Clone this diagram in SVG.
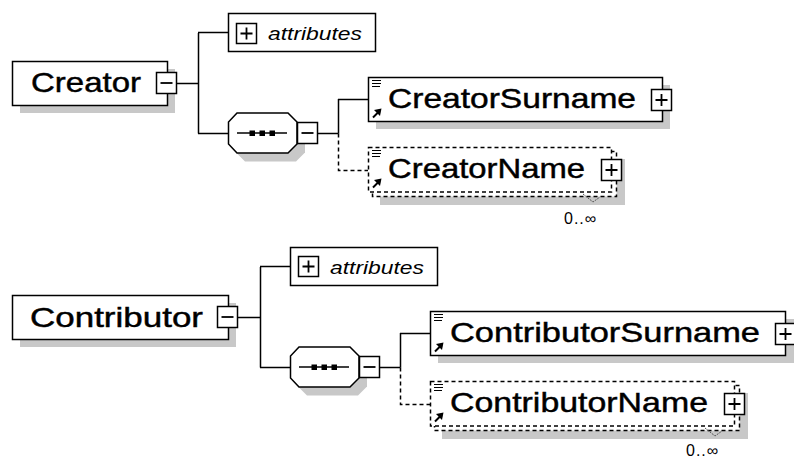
<svg xmlns="http://www.w3.org/2000/svg" xmlns:xlink="http://www.w3.org/1999/xlink" width="794" height="461" viewBox="0 0 794 461">
<style>
.bg{fill:#ffffff}
.shadow{fill:#c8c8c8;stroke:none}
.box{fill:#ffffff;stroke:#000000;stroke-width:1.5}
.dbox{fill:#ffffff;stroke:#000000;stroke-width:1.5;stroke-dasharray:4,3}
.line{fill:none;stroke:#000000;stroke-width:1.5}
.dline{fill:none;stroke:#000000;stroke-width:1.5;stroke-dasharray:4,3}
.sym{fill:none;stroke:#000000;stroke-width:1.8}
.name{font-family:"Liberation Sans",Arial,sans-serif;font-size:28px;fill:#000000;stroke:#000000;stroke-width:0.45}
.attr{font-family:"Liberation Sans",Arial,sans-serif;font-style:italic;font-size:18px;fill:#000000}
.mult{font-family:"Liberation Sans","DejaVu Sans",sans-serif;font-size:16px;fill:#000000;letter-spacing:1px}
.vmark{fill:none;stroke:#555555;stroke-width:1;stroke-dasharray:2,1}
</style>
<defs>
<g id="lines"><path d="M4 3.5H13M4 6.5H13M4 9.5H12" fill="none" stroke="#000" stroke-width="1.1"/></g>
<g id="arrow"><path d="M5 -3.5L10 -8.5" fill="none" stroke="#000" stroke-width="2"/><polygon points="13.5,-12.5 6,-11 12,-5" fill="#000"/></g>
<g id="plus"><rect class="box" x="0" y="0" width="20" height="20"/><path class="sym" d="M4 10H16M10 4V16"/></g>
<g id="plusT"><rect class="box" x="0" y="0" width="20" height="21"/><path class="sym" d="M4 10.5H16M10 4.5V16.5"/></g>
<g id="minus"><rect class="box" x="0" y="0" width="20" height="21"/><path class="sym" d="M4 10.5H16"/></g>
<g id="seq">
<polygon class="shadow" points="17,9 68,9 77,18 77,40 68,49 17,49 8,40 8,18"/>
<polygon class="box" points="9,0.5 60,0.5 69,9.5 69,31.5 60,40.5 9,40.5 0.5,31.5 0.5,9.5"/>
<path class="line" d="M9 20.5H59"/>
<rect x="21.5" y="18" width="5.5" height="5.5" fill="#000"/>
<rect x="31.5" y="18" width="5.5" height="5.5" fill="#000"/>
<rect x="41.5" y="18" width="5.5" height="5.5" fill="#000"/>
</g>
</defs>
<rect class="bg" x="0" y="0" width="794" height="461"/>

<g id="connectors">
<path class="line" d="M176.5 83.5H198.5M198.5 33V133.5M198 32.5H228M198 133.5H228"/>
<path class="line" d="M317 133.5H338.5M338.5 99V133.5M338 99.5H368"/>
<path class="dline" d="M338.5 133.5V170.5H368"/>
<path class="line" d="M238 317.5H260.5M260.5 267V367.5M260 266.5H290M260 367.5H290"/>
<path class="line" d="M379 367.5H400.5M400.5 333V367.5M400 333.5H430"/>
<path class="dline" d="M400.5 367.5V404.5H430"/>
</g>

<g id="creator">
<rect class="shadow" x="20" y="69" width="155" height="44"/>
<rect class="box" x="12.5" y="61.5" width="155" height="44"/>
<text class="name" x="31" y="92" textLength="110" lengthAdjust="spacingAndGlyphs">Creator</text>
<use xlink:href="#minus" x="156.5" y="72.5"/>
</g>

<g id="creator-attributes">
<rect class="box" x="228.5" y="13.5" width="147" height="38"/>
<use xlink:href="#plus" x="236.5" y="23.5"/>
<text class="attr" x="268" y="40" textLength="94" lengthAdjust="spacingAndGlyphs">attributes</text>
</g>

<g id="creator-sequence">
<use xlink:href="#seq" x="228" y="112.5"/>
<use xlink:href="#minus" x="297.5" y="122.5"/>
</g>

<g id="creator-surname">
<rect class="shadow" x="376" y="85" width="294" height="44"/>
<rect class="box" x="368.5" y="77.5" width="294" height="44"/>
<use xlink:href="#lines" x="368" y="77"/>
<use xlink:href="#arrow" x="368" y="121"/>
<text class="name" x="388" y="108" textLength="248" lengthAdjust="spacingAndGlyphs">CreatorSurname</text>
<use xlink:href="#plusT" x="651.5" y="89.5"/>
</g>

<g id="creator-name">
<rect class="shadow" x="380" y="159" width="245" height="46"/>
<rect class="dbox" x="372.5" y="151.5" width="244" height="45"/>
<rect class="dbox" x="368.5" y="147.5" width="243" height="44.5"/>
<use xlink:href="#lines" x="368" y="147"/>
<use xlink:href="#arrow" x="368" y="191"/>
<text class="name" x="388" y="178" textLength="197" lengthAdjust="spacingAndGlyphs">CreatorName</text>
<use xlink:href="#plusT" x="601.5" y="159.5"/>
<polyline class="vmark" points="583,194 593,202 600,197"/>
<text class="mult" x="564" y="224">0..∞</text>
</g>

<g id="contributor">
<rect class="shadow" x="20" y="303" width="216" height="44"/>
<rect class="box" x="12.5" y="295.5" width="216" height="44"/>
<text class="name" x="30" y="327" textLength="173" lengthAdjust="spacingAndGlyphs">Contributor</text>
<use xlink:href="#minus" x="217.5" y="306.5"/>
</g>

<g id="contributor-attributes">
<rect class="box" x="290.5" y="247.5" width="147" height="38"/>
<use xlink:href="#plus" x="298.5" y="256.5"/>
<text class="attr" x="330" y="274" textLength="94" lengthAdjust="spacingAndGlyphs">attributes</text>
</g>

<g id="contributor-sequence">
<use xlink:href="#seq" x="290" y="346.5"/>
<use xlink:href="#minus" x="359.5" y="356.5"/>
</g>

<g id="contributor-surname">
<rect class="shadow" x="438" y="319" width="356" height="44"/>
<rect class="box" x="430.5" y="311.5" width="355" height="44"/>
<use xlink:href="#lines" x="430" y="311"/>
<use xlink:href="#arrow" x="430" y="355"/>
<text class="name" x="450" y="342" textLength="310" lengthAdjust="spacingAndGlyphs">ContributorSurname</text>
<use xlink:href="#plusT" x="775.5" y="323.5"/>
</g>

<g id="contributor-name">
<rect class="shadow" x="442" y="393" width="306" height="46"/>
<rect class="dbox" x="434.5" y="385.5" width="305" height="45"/>
<rect class="dbox" x="430.5" y="381.5" width="304" height="44.5"/>
<use xlink:href="#lines" x="430" y="381"/>
<use xlink:href="#arrow" x="430" y="425"/>
<text class="name" x="450" y="412" textLength="258" lengthAdjust="spacingAndGlyphs">ContributorName</text>
<use xlink:href="#plusT" x="724.5" y="393.5"/>
<polyline class="vmark" points="705,428 715,436 722,431"/>
<text class="mult" x="686" y="456">0..∞</text>
</g>
</svg>
